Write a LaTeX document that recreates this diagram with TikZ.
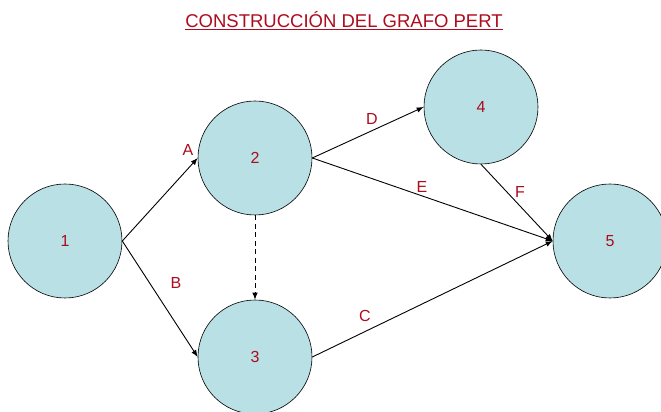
\documentclass[tikz,border=0pt]{standalone}
\usepackage{fontspec}
\setmainfont{Liberation Sans}
\usetikzlibrary{arrows.meta}
\definecolor{nodefill}{RGB}{185,224,228}
\definecolor{labred}{RGB}{172,12,30}
\begin{document}
\begin{tikzpicture}[x=1pt,y=1pt,
  ev/.style={circle,draw=black,fill=nodefill,minimum size=114pt,inner sep=0pt,line width=0.6pt,font=\fontsize{16}{18}\selectfont,text=labred},
  act/.style={draw=black,line width=0.9pt,-{Latex[length=7pt,width=5.5pt]}},
  lab/.style={text=labred,font=\fontsize{16}{18}\selectfont,inner sep=0pt}]
\useasboundingbox (0,0) rectangle (661,412);
\node[text=labred,font=\fontsize{18.5}{20}\selectfont] (title) at (344,391) {\underline{CONSTRUCCIÓN DEL GRAFO PERT}};
\node[ev] (n1) at (65,171) {1};
\node[ev] (n2) at (255,254) {2};
\node[ev] (n3) at (255,55) {3};
\node[ev] (n4) at (481,305) {4};
\node[ev] (n5) at (610,171) {5};
\draw[act] (n1.east) -- (n2.west);
\draw[act] (n1.east) -- (n3.west);
\draw[act] (n2.east) -- (n4.west);
\draw[act] (n2.east) -- (n5.west);
\draw[act] (n4.south) -- (n5.west);
\draw[act] (n3.east) -- (n5.west);
\draw[act,dash pattern=on 5pt off 3.5pt] (n2.south) -- (n3.north);
\node[lab] (la) at (188,262) {A};
\node[lab] (lb) at (176,129) {B};
\node[lab] (lc) at (365,96) {C};
\node[lab] (ld) at (372,293) {D};
\node[lab] (le) at (422,225) {E};
\node[lab] (lf) at (520,220) {F};
\end{tikzpicture}
\end{document}
